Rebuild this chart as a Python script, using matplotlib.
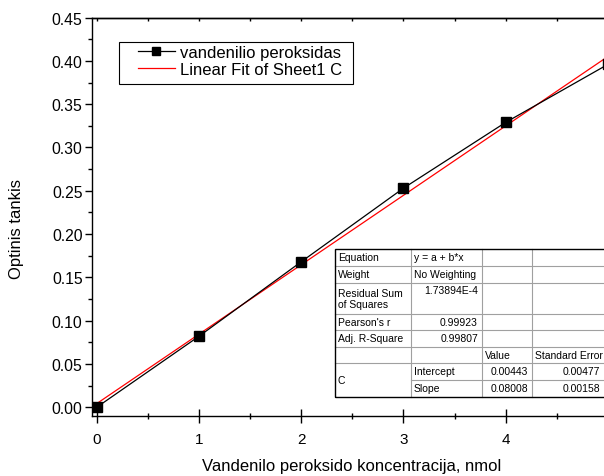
import matplotlib
matplotlib.use('Agg')
import matplotlib.pyplot as plt
import numpy as np
from matplotlib.lines import Line2D
from matplotlib.patches import Rectangle
from matplotlib.ticker import MultipleLocator, FormatStrFormatter, FixedLocator

plt.rcParams['font.family'] = ['Liberation Sans', 'DejaVu Sans']

# ---- data ----
conc = [0, 1, 2, 3, 4, 5]
absorb = [0.0, 0.082, 0.168, 0.253, 0.329, 0.396]
x_ticks = [0, 1, 2, 3, 4]
series_label = 'vandenilio peroksidas'
fit_label = 'Linear Fit of Sheet1 C'
x_label = 'Vandenilo peroksido koncentracija, nmol'
y_label = 'Optinis tankis'

table_labels = ['Equation', 'Weight', 'Residual Sum\nof Squares', "Pearson's r", 'Adj. R-Square']
table_values = ['y = a + b*x', 'No Weighting', '1.73894E-4', '0.99923', '0.99807']
param_names = ['Intercept', 'Slope']
param_values = ['0.00443', '0.08008']
param_errors = ['0.00477', '0.00158']

W, H = 604, 477
fig = plt.figure(figsize=(W / 100, H / 100), dpi=100)


def fx(px):
    return px / W


def fy(py):
    return 1 - py / H


# axes geometry in pixels
ax_l, ax_r, ax_t, ax_b = 92.3, 612.0, 18.6, 416.7
ax = fig.add_axes([ax_l / W, 1 - ax_b / H, (ax_r - ax_l) / W, (ax_b - ax_t) / H])

slope, intercept = np.polyfit(conc, absorb, 1)
xf = np.array([conc[0], conc[-1]])
ax.plot(conc, absorb, color='black', lw=0.9, marker='s', markersize=6.5,
        markerfacecolor='black', markeredgecolor='black', zorder=3)
ax.plot(xf, intercept + slope * xf, color='red', lw=0.9, zorder=2)

ax.set_xlim(-0.043, 5.04)
ax.set_ylim(-0.0097, 0.45)

ax.xaxis.set_major_locator(FixedLocator(x_ticks))
ax.xaxis.set_minor_locator(MultipleLocator(0.5))
ax.yaxis.set_major_locator(MultipleLocator(0.05))
ax.yaxis.set_minor_locator(MultipleLocator(0.025))
ax.yaxis.set_major_formatter(FormatStrFormatter('%.2f'))

ax.spines['right'].set_visible(False)
for s in ['left', 'bottom', 'top']:
    ax.spines[s].set_linewidth(1.0)

ax.tick_params(axis='x', which='major', direction='inout', length=10, width=1.0,
               labelsize=11, pad=7, top=False)
ax.tick_params(axis='x', which='minor', direction='inout', length=5, width=1.0, top=False)
ax.tick_params(axis='y', which='major', direction='out', length=5, width=1.0,
               labelsize=11.3, pad=2, right=False)
ax.tick_params(axis='y', which='minor', direction='out', length=3, width=1.0, right=False)

sec = ax.secondary_xaxis('top')
sec.xaxis.set_major_locator(MultipleLocator(1))
sec.xaxis.set_minor_locator(MultipleLocator(0.5))
sec.tick_params(which='both', direction='in', length=2, width=1.0, labeltop=False)
sec.spines['top'].set_linewidth(1.0)

fig.text(fx(352), fy(467), x_label, fontsize=12, ha='center', va='center')
fig.text(fx(17), fy(229), y_label, fontsize=12, ha='center', va='center', rotation=90)

handles = [Line2D([], [], color='black', lw=0.9, marker='s', markersize=5.5),
           Line2D([], [], color='red', lw=0.9)]
leg = ax.legend(handles, [series_label, fit_label], loc='upper left',
                bbox_to_anchor=(fx(138), fy(46)), bbox_transform=fig.transFigure,
                borderaxespad=0, borderpad=0, frameon=False,
                fontsize=12, handlelength=2.2, handletextpad=0.3, labelspacing=0.1)
fig.add_artist(Rectangle((fx(118.5), fy(84.5)), fx(352.5) - fx(118.5), fy(43) - fy(84.5),
                         transform=fig.transFigure, facecolor='none',
                         edgecolor='black', lw=0.8, zorder=5))

# ---- fit results table (figure pixel layout) ----
cols = [335, 411, 482, 532, 604]
rows = [250, 267, 284, 315, 331, 348, 364, 381, 398]
tfs = 7.5
gray = '#a0a0a0'

fig.add_artist(Rectangle((fx(cols[0]), fy(rows[-1])), fx(cols[-1] + 10) - fx(cols[0]),
                         fy(rows[0]) - fy(rows[-1]), transform=fig.transFigure,
                         facecolor='white', edgecolor='none', zorder=10))
for i, ry in enumerate(rows[1:-1], start=1):
    x0 = cols[1] if i == 7 else cols[0]
    fig.add_artist(Line2D([fx(x0), fx(cols[-1] + 10)], [fy(ry), fy(ry)],
                          transform=fig.transFigure, color=gray, lw=0.8, zorder=11))
for cx in cols[1:4]:
    fig.add_artist(Line2D([fx(cx), fx(cx)], [fy(rows[0]), fy(rows[-1])],
                          transform=fig.transFigure, color=gray, lw=0.8, zorder=11))
fig.add_artist(Rectangle((fx(cols[0]), fy(rows[-1])), fx(cols[-1] + 10) - fx(cols[0]),
                         fy(rows[0]) - fy(rows[-1]), transform=fig.transFigure,
                         facecolor='none', edgecolor='black', lw=1.0, zorder=12))


def cell_text(r, c, txt, ha='left', va='center', r2=None):
    r2 = r if r2 is None else r2
    x = cols[c] + 3 if ha == 'left' else cols[c + 1] - 4
    y = (rows[r] + rows[r2 + 1]) / 2 if va == 'center' else rows[r] + 2
    fig.text(fx(x), fy(y), txt, ha=ha, va=va, fontsize=tfs, zorder=13,
             linespacing=1.1)


for i, (lab, val) in enumerate(zip(table_labels, table_values)):
    cell_text(i, 0, lab)
    if i < 2:
        cell_text(i, 1, val, ha='left')
    elif i == 2:
        cell_text(i, 1, val, ha='right', va='top')
    else:
        cell_text(i, 1, val, ha='right')
cell_text(5, 2, 'Value')
cell_text(5, 3, 'Standard Error')
cell_text(6, 0, 'C', r2=7)
for j, (nm, v, e) in enumerate(zip(param_names, param_values, param_errors)):
    cell_text(6 + j, 1, nm)
    cell_text(6 + j, 2, v, ha='right')
    cell_text(6 + j, 3, e, ha='right')

fig.savefig('out.png', dpi=100)
